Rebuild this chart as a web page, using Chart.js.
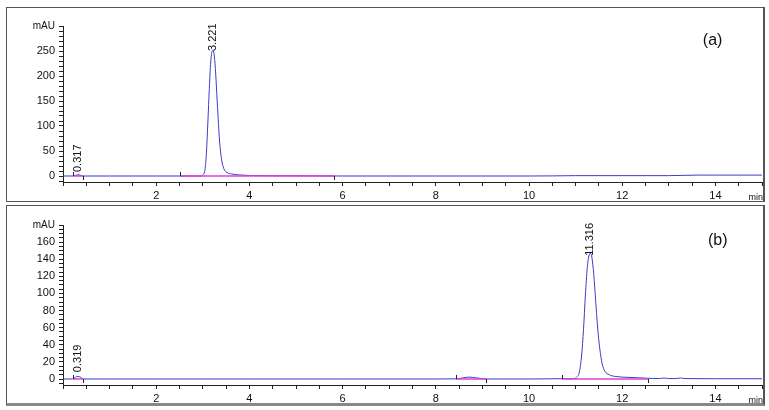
<!DOCTYPE html>
<html>
<head>
<meta charset="utf-8">
<script src="https://cdn.jsdelivr.net/npm/chart.js@4.4.1/dist/chart.umd.min.js"></script>
<style>
  body { margin: 0; background: #fff; width: 769px; height: 410px; position: relative; overflow: hidden; }
  .frame { position: absolute; box-sizing: border-box; border: 1px solid #555; border-right: 2px solid #555; }
  #frameA { left: 6px; top: 7px; width: 759px; height: 195px; }
  #frameB { left: 6px; top: 205px; width: 759px; height: 201px; border-bottom: 3px solid #888; }
  canvas { position: absolute; left: 0; }
  #chartA { top: 0; }
  #chartB { top: 203px; }
</style>
</head>
<body>
<div class="frame" id="frameA"></div>
<div class="frame" id="frameB"></div>
<canvas id="chartA" width="769" height="203"></canvas>
<canvas id="chartB" width="769" height="203"></canvas>

<script>
// --- data ---
// (a) retention time (min) and absorbance (mAU)
const timeA = [0, 0.2, 0.28, 0.32, 0.37, 0.45, 1.0, 2.0, 2.9, 2.95, 3.0, 3.05, 3.08, 3.11, 3.14, 3.17, 3.2, 3.22, 3.24, 3.27, 3.3, 3.33, 3.36, 3.4, 3.45, 3.52, 3.62, 3.8, 4.0, 5.0, 6.0, 8.0, 10.0, 10.5, 11.0, 13.0, 13.6, 14.0, 15.0];
const signalA = [0, 0, 1.5, 2.5, 1.5, 0, 0, 0, 0, 0, 2, 15, 50, 110, 175, 228, 250, 252, 245, 215, 165, 115, 70, 35, 15, 7, 4, 2, 1, 0.5, 0, 0, 0, 0.2, 0.7, 0.7, 1.8, 1.8, 1.8];
const baselineA = [[0.22, 0.43], [2.51, 5.82]];
const peakTimesA = [0.317, 3.221];
const labelAtA = [8, 250];   // mAU level where each rotated label starts

// (b)
const timeB = [0, 0.2, 0.27, 0.32, 0.38, 0.45, 1.0, 2.0, 3.0, 4.0, 6.0, 8.0, 8.45, 8.6, 8.72, 8.85, 9.0, 9.1, 9.3, 10.0, 10.6, 10.95, 11.02, 11.08, 11.13, 11.17, 11.21, 11.25, 11.29, 11.32, 11.35, 11.39, 11.43, 11.47, 11.52, 11.57, 11.63, 11.72, 11.85, 12.1, 12.5, 12.8, 12.9, 13.0, 13.15, 13.25, 13.35, 14.0, 15.0];
const signalB = [0, 0, 2, 3, 2, 0, 0, 0, 0, 0, 0, 0, 0.2, 1.5, 2.2, 1.5, 0.4, 0, 0, 0, 0.3, 0.5, 2, 8, 28, 58, 98, 130, 145, 147, 142, 122, 92, 62, 35, 18, 9, 5, 3, 2, 1, 0.5, 1.2, 0.5, 0.5, 1.2, 0.5, 0.3, 0.3];
const baselineB = [[0.22, 0.43], [8.43, 9.08], [10.7, 12.55]];
const peakTimesB = [0.319, 11.316];
const labelAtB = [8, 144];

const xTicksLabelled = [2, 4, 6, 8, 10, 12, 14];

function toPoints(xs, ys) {
  return xs.map((x, i) => ({ x: x, y: ys[i] }));
}

function segPoints(segs) {
  let pts = [];
  segs.forEach(s => {
    pts.push({ x: s[0], y: 0 }, { x: s[1], y: 0 }, { x: s[1], y: null });
  });
  return pts;
}

// draws integration event ticks, rotated retention-time labels, panel letter and "min"
const notesPlugin = {
  id: 'notes',
  afterDatasetsDraw(chart, args, opts) {
    const ctx = chart.ctx;
    const x = chart.scales.x, y = chart.scales.y;
    const y0 = y.getPixelForValue(0);
    ctx.save();
    ctx.strokeStyle = '#222';
    ctx.lineWidth = 1;
    opts.segs.forEach(s => {
      let px = Math.round(x.getPixelForValue(s[0])) + 0.5;
      ctx.beginPath(); ctx.moveTo(px, y0); ctx.lineTo(px, y0 - 4); ctx.stroke();
      px = Math.round(x.getPixelForValue(s[1])) + 0.5;
      ctx.beginPath(); ctx.moveTo(px, y0); ctx.lineTo(px, y0 + 4); ctx.stroke();
    });

    ctx.fillStyle = '#111';
    ctx.font = '11px Arial, "Liberation Sans", sans-serif';
    ctx.textAlign = 'left';
    ctx.textBaseline = 'middle';
    opts.peaks.forEach((t, i) => {
      const px = x.getPixelForValue(t);
      const py = y.getPixelForValue(opts.labelAt[i]);
      ctx.save();
      ctx.translate(px, py);
      ctx.rotate(-Math.PI / 2);
      ctx.fillText(t.toFixed(3), 0, 0);
      ctx.restore();
    });

    ctx.font = '16px Arial, "Liberation Sans", sans-serif';
    ctx.fillText(opts.panel, x.getPixelForValue(opts.panelX), y.getPixelForValue(opts.panelY));

    ctx.font = '9px Arial, "Liberation Sans", sans-serif';
    ctx.textAlign = 'right';
    ctx.textBaseline = 'alphabetic';
    ctx.fillText('min', x.right + 1, chart.chartArea.bottom + 18);
    ctx.restore();
  }
};

function makeChart(id, times, signal, segs, peaks, labelAt, yMin, yMax, yStep, yLabelStep, padTop, panel, panelX, panelY) {
  const canvas = document.getElementById(id);
  return new Chart(canvas.getContext('2d'), {
    type: 'line',
    data: {
      datasets: [
        {
          data: toPoints(times, signal),
          borderColor: '#3b3bc9',
          borderWidth: 1,
          pointRadius: 0,
          cubicInterpolationMode: 'monotone',
          fill: false,
          order: 1
        },
        {
          data: segPoints(segs),
          borderColor: '#dc44d4',
          borderWidth: 1.4,
          pointRadius: 0,
          spanGaps: false,
          fill: false,
          order: 0
        }
      ]
    },
    options: {
      responsive: false,
      animation: false,
      devicePixelRatio: 1,
      layout: { padding: { top: padTop, right: 7, bottom: 0, left: 0 } },
      plugins: {
        legend: { display: false },
        tooltip: { enabled: false },
        notes: { segs: segs, peaks: peaks, labelAt: labelAt, panel: panel, panelX: panelX, panelY: panelY }
      },
      scales: {
        x: {
          type: 'linear',
          min: 0,
          max: 15,
          afterFit: s => { s.height = 21; },
          border: { display: true, color: '#222', width: 1 },
          grid: { drawOnChartArea: false, drawTicks: true, tickLength: 4, color: '#222' },
          ticks: {
            stepSize: 0.5,
            autoSkip: false,
            maxRotation: 0,
            padding: 3,
            color: '#111',
            font: { family: 'Arial, "Liberation Sans", sans-serif', size: 11 },
            callback: v => xTicksLabelled.includes(v) ? String(v) : ''
          }
        },
        y: {
          min: yMin,
          max: yMax,
          afterFit: s => { s.width = 63; },
          border: { display: true, color: '#222', width: 1 },
          grid: { drawOnChartArea: false, drawTicks: true, tickLength: 4, color: '#222' },
          ticks: {
            stepSize: yStep,
            includeBounds: false,
            autoSkip: false,
            padding: 4,
            color: '#111',
            font: c => ({ family: 'Arial, "Liberation Sans", sans-serif', size: c.tick && c.tick.value === yMax ? 10 : 11 }),
            callback: v => v === yMax ? 'mAU' : (v >= 0 && v % yLabelStep === 0 ? String(v) : '')
          }
        }
      }
    },
    plugins: [notesPlugin]
  });
}

makeChart('chartA', timeA, signalA, baselineA, peakTimesA, labelAtA, -12, 300, 10, 50, 26, '(a)', 13.73, 270);
makeChart('chartB', timeB, signalB, baselineB, peakTimesB, labelAtB, -7, 180, 5, 20, 22, '(b)', 13.84, 162);
</script>
</body>
</html>
